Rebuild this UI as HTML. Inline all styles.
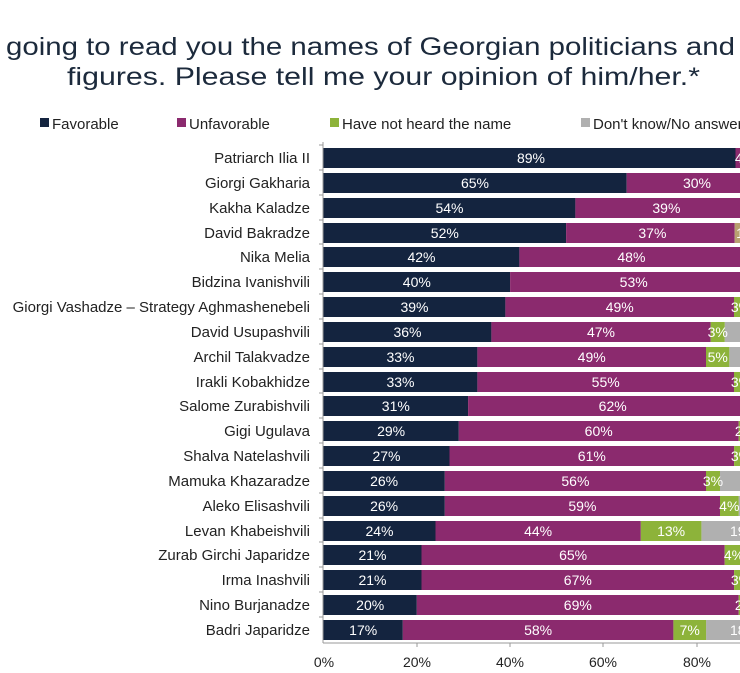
<!DOCTYPE html>
<html><head><meta charset="utf-8"><style>
html,body{margin:0;padding:0;background:#fff;width:740px;height:673px;overflow:hidden}
svg{display:block;font-family:"Liberation Sans","DejaVu Sans",sans-serif}
.n{fill:#14243f}.p{fill:#8b2a6e}.g{fill:#8db33a}.q{fill:#b0b0b0}
.l{font-size:15px;fill:#222;text-anchor:end}
.v{font-size:14px;fill:#fff;text-anchor:middle}
</style></head><body>
<svg width="740" height="673" viewBox="0 0 740 673" xmlns="http://www.w3.org/2000/svg">
<text x="6" y="55" font-size="25" fill="#1c2a3c" textLength="729" lengthAdjust="spacingAndGlyphs">going to read you the names of Georgian politicians and</text>
<text x="67" y="85" font-size="25" fill="#1c2a3c" textLength="633" lengthAdjust="spacingAndGlyphs">figures. Please tell me your opinion of him/her.*</text>
<g font-size="15" fill="#222">
<rect x="40" y="118" width="9" height="9" fill="#14243f"/><text x="52" y="129">Favorable</text>
<rect x="177" y="118" width="9" height="9" fill="#8b2a6e"/><text x="189" y="129">Unfavorable</text>
<rect x="330" y="118" width="9" height="9" fill="#8db33a"/><text x="342" y="129">Have not heard the name</text>
<rect x="581" y="118" width="9" height="9" fill="#b0b0b0"/><text x="593" y="129">Don't know/No answer</text>
</g>

<g transform="translate(0,148)">
<text class="l" x="310" y="15">Patriarch Ilia II</text>
<rect class="n" x="323.5" y="0" width="412" height="20"/><rect class="p" x="735.5" y="0" width="10" height="20"/>
<text class="v" x="531" y="15">89%</text><text class="v" x="745" y="15">4%</text>
</g>
<g transform="translate(0,173)">
<text class="l" x="310" y="15">Giorgi Gakharia</text>
<rect class="n" x="323.5" y="0" width="303.2" height="20"/><rect class="p" x="626.7" y="0" width="120" height="20"/>
<text class="v" x="475" y="15">65%</text><text class="v" x="697" y="15">30%</text>
</g>
<g transform="translate(0,198)">
<text class="l" x="310" y="15">Kakha Kaladze</text>
<rect class="n" x="323.5" y="0" width="251.9" height="20"/><rect class="p" x="575.4" y="0" width="170" height="20"/>
<text class="v" x="449.5" y="15">54%</text><text class="v" x="666.4" y="15">39%</text>
</g>
<g transform="translate(0,223)">
<text class="l" x="310" y="15">David Bakradze</text>
<rect class="n" x="323.5" y="0" width="242.6" height="20"/><rect class="p" x="566.1" y="0" width="168.6" height="20"/><rect x="734.7" y="0" width="8" height="20" fill="#b8a070"/>
<text class="v" x="444.8" y="15">52%</text><text class="v" x="652.4" y="15">37%</text><text class="v" x="740" y="15">1</text>
</g>
<g transform="translate(0,247)">
<text class="l" x="310" y="15">Nika Melia</text>
<rect class="n" x="323.5" y="0" width="195.9" height="20"/><rect class="p" x="519.4" y="0" width="225" height="20"/>
<text class="v" x="421.5" y="15">42%</text><text class="v" x="631.4" y="15">48%</text>
</g>
<g transform="translate(0,272)">
<text class="l" x="310" y="15">Bidzina Ivanishvili</text>
<rect class="n" x="323.5" y="0" width="186.6" height="20"/><rect class="p" x="510.1" y="0" width="235" height="20"/>
<text class="v" x="416.8" y="15">40%</text><text class="v" x="633.7" y="15">53%</text>
</g>
<g transform="translate(0,297)">
<text class="l" x="310" y="15">Giorgi Vashadze – Strategy Aghmashenebeli</text>
<rect class="n" x="323.5" y="0" width="181.9" height="20"/><rect class="p" x="505.4" y="0" width="228.6" height="20"/><rect class="g" x="734" y="0" width="14" height="20"/>
<text class="v" x="414.5" y="15">39%</text><text class="v" x="619.7" y="15">49%</text><text class="v" x="741" y="15">3%</text>
</g>
<g transform="translate(0,322)">
<text class="l" x="310" y="15">David Usupashvili</text>
<rect class="q" x="724.7" y="0" width="20" height="20"/>
<rect class="n" x="323.5" y="0" width="167.9" height="20"/><rect class="p" x="491.4" y="0" width="219.3" height="20"/><rect class="g" x="710.7" y="0" width="14" height="20"/>
<text class="v" x="407.5" y="15">36%</text><text class="v" x="601" y="15">47%</text><text class="v" x="717.7" y="15">3%</text>
</g>
<g transform="translate(0,347)">
<text class="l" x="310" y="15">Archil Talakvadze</text>
<rect class="q" x="729.3" y="0" width="15" height="20"/>
<rect class="n" x="323.5" y="0" width="153.9" height="20"/><rect class="p" x="477.4" y="0" width="228.6" height="20"/><rect class="g" x="706" y="0" width="23.3" height="20"/>
<text class="v" x="400.5" y="15">33%</text><text class="v" x="591.7" y="15">49%</text><text class="v" x="717.7" y="15">5%</text>
</g>
<g transform="translate(0,372)">
<text class="l" x="310" y="15">Irakli Kobakhidze</text>
<rect class="n" x="323.5" y="0" width="153.9" height="20"/><rect class="p" x="477.4" y="0" width="256.6" height="20"/><rect class="g" x="734" y="0" width="14" height="20"/>
<text class="v" x="400.5" y="15">33%</text><text class="v" x="605.7" y="15">55%</text><text class="v" x="741" y="15">3%</text>
</g>
<g transform="translate(0,396)">
<text class="l" x="310" y="15">Salome Zurabishvili</text>
<rect class="n" x="323.5" y="0" width="144.6" height="20"/><rect class="p" x="468.1" y="0" width="280" height="20"/>
<text class="v" x="395.8" y="15">31%</text><text class="v" x="612.7" y="15">62%</text>
</g>
<g transform="translate(0,421)">
<text class="l" x="310" y="15">Gigi Ugulava</text>
<rect class="n" x="323.5" y="0" width="135.3" height="20"/><rect class="p" x="458.8" y="0" width="279.9" height="20"/><rect class="g" x="738.7" y="0" width="10" height="20"/>
<text class="v" x="391.1" y="15">29%</text><text class="v" x="598.7" y="15">60%</text><text class="v" x="745" y="15">2%</text>
</g>
<g transform="translate(0,446)">
<text class="l" x="310" y="15">Shalva Natelashvili</text>
<rect class="n" x="323.5" y="0" width="126" height="20"/><rect class="p" x="449.5" y="0" width="284.6" height="20"/><rect class="g" x="734.1" y="0" width="14" height="20"/>
<text class="v" x="386.5" y="15">27%</text><text class="v" x="591.8" y="15">61%</text><text class="v" x="741" y="15">3%</text>
</g>
<g transform="translate(0,471)">
<text class="l" x="310" y="15">Mamuka Khazaradze</text>
<rect class="q" x="720" y="0" width="25" height="20"/>
<rect class="n" x="323.5" y="0" width="121.3" height="20"/><rect class="p" x="444.8" y="0" width="261.2" height="20"/><rect class="g" x="706" y="0" width="14" height="20"/>
<text class="v" x="384.1" y="15">26%</text><text class="v" x="575.4" y="15">56%</text><text class="v" x="713" y="15">3%</text>
</g>
<g transform="translate(0,496)">
<text class="l" x="310" y="15">Aleko Elisashvili</text>
<rect class="q" x="738.7" y="0" width="6" height="20"/>
<rect class="n" x="323.5" y="0" width="121.3" height="20"/><rect class="p" x="444.8" y="0" width="275.2" height="20"/><rect class="g" x="720" y="0" width="18.7" height="20"/>
<text class="v" x="384.1" y="15">26%</text><text class="v" x="582.4" y="15">59%</text><text class="v" x="729.3" y="15">4%</text>
</g>
<g transform="translate(0,521)">
<text class="l" x="310" y="15">Levan Khabeishvili</text>
<rect class="q" x="701.4" y="0" width="45" height="20"/>
<rect class="n" x="323.5" y="0" width="112" height="20"/><rect class="p" x="435.5" y="0" width="205.3" height="20"/><rect class="g" x="640.8" y="0" width="60.6" height="20"/>
<text class="v" x="379.5" y="15">24%</text><text class="v" x="538.1" y="15">44%</text><text class="v" x="671.1" y="15">13%</text><text class="v" x="744" y="15">19%</text>
</g>
<g transform="translate(0,545)">
<text class="l" x="310" y="15">Zurab Girchi Japaridze</text>
<rect class="n" x="323.5" y="0" width="98" height="20"/><rect class="p" x="421.5" y="0" width="303.2" height="20"/><rect class="g" x="724.7" y="0" width="18.7" height="20"/>
<text class="v" x="372.5" y="15">21%</text><text class="v" x="573.1" y="15">65%</text><text class="v" x="734" y="15">4%</text>
</g>
<g transform="translate(0,570)">
<text class="l" x="310" y="15">Irma Inashvili</text>
<rect class="n" x="323.5" y="0" width="98" height="20"/><rect class="p" x="421.5" y="0" width="312.6" height="20"/><rect class="g" x="734.1" y="0" width="14" height="20"/>
<text class="v" x="372.5" y="15">21%</text><text class="v" x="577.8" y="15">67%</text><text class="v" x="741" y="15">3%</text>
</g>
<g transform="translate(0,595)">
<text class="l" x="310" y="15">Nino Burjanadze</text>
<rect class="n" x="323.5" y="0" width="93.3" height="20"/><rect class="p" x="416.8" y="0" width="321.9" height="20"/><rect class="g" x="738.7" y="0" width="10" height="20"/>
<text class="v" x="370.2" y="15">20%</text><text class="v" x="577.8" y="15">69%</text><text class="v" x="745" y="15">2%</text>
</g>
<g transform="translate(0,620)">
<text class="l" x="310" y="15">Badri Japaridze</text>
<rect class="q" x="706.1" y="0" width="40" height="20"/>
<rect class="n" x="323.5" y="0" width="79.3" height="20"/><rect class="p" x="402.8" y="0" width="270.6" height="20"/><rect class="g" x="673.4" y="0" width="32.7" height="20"/>
<text class="v" x="363.2" y="15">17%</text><text class="v" x="538.1" y="15">58%</text><text class="v" x="689.7" y="15">7%</text><text class="v" x="744" y="15">18%</text>
</g>

<line x1="323" y1="142" x2="323" y2="643" stroke="#999"/>
<line x1="323" y1="643" x2="740" y2="643" stroke="#999"/>
<g stroke="#999">
<line x1="319" x2="323" y1="145" y2="145"/><line x1="319" x2="323" y1="170" y2="170"/><line x1="319" x2="323" y1="195" y2="195"/><line x1="319" x2="323" y1="220" y2="220"/><line x1="319" x2="323" y1="244" y2="244"/><line x1="319" x2="323" y1="269" y2="269"/><line x1="319" x2="323" y1="294" y2="294"/><line x1="319" x2="323" y1="319" y2="319"/><line x1="319" x2="323" y1="344" y2="344"/><line x1="319" x2="323" y1="369" y2="369"/><line x1="319" x2="323" y1="393" y2="393"/><line x1="319" x2="323" y1="418" y2="418"/><line x1="319" x2="323" y1="443" y2="443"/><line x1="319" x2="323" y1="468" y2="468"/><line x1="319" x2="323" y1="493" y2="493"/><line x1="319" x2="323" y1="518" y2="518"/><line x1="319" x2="323" y1="542" y2="542"/><line x1="319" x2="323" y1="567" y2="567"/><line x1="319" x2="323" y1="592" y2="592"/><line x1="319" x2="323" y1="617" y2="617"/>
<line x1="417" x2="417" y1="643" y2="647"/><line x1="510" x2="510" y1="643" y2="647"/><line x1="603" x2="603" y1="643" y2="647"/><line x1="697" x2="697" y1="643" y2="647"/>
</g>
<g font-size="14" fill="#222" text-anchor="middle">
<text x="324" y="667">0%</text><text x="417" y="667">20%</text><text x="510" y="667">40%</text><text x="603" y="667">60%</text><text x="697" y="667">80%</text>
</g>
</svg>
</body></html>
